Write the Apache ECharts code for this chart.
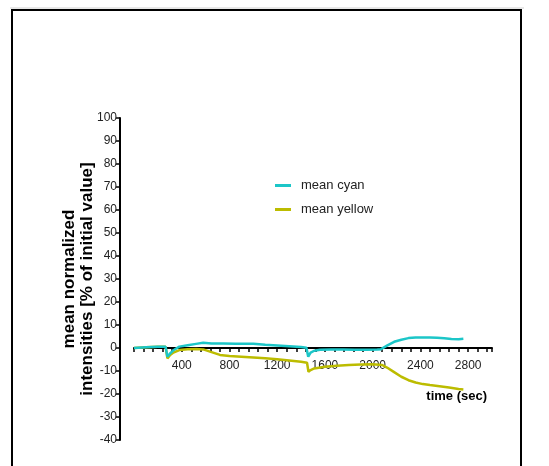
<!DOCTYPE html>
<html><head><meta charset="utf-8">
<script src="https://cdn.jsdelivr.net/npm/echarts@6/dist/echarts.min.js"></script>
<style>html,body{margin:0;padding:0;background:#fff}#c{width:549px;height:466px}</style>
</head><body><div id="c"></div>
<script>
const seriesNames = ['mean cyan', 'mean yellow'];
const cyanTime =   [0, 100, 200, 265, 280, 300, 330, 380, 450, 520, 580, 650, 750, 850, 1000, 1100, 1200, 1300, 1400, 1445, 1460, 1480, 1510, 1560, 1650, 1750, 1850, 1950, 2040, 2070, 2120, 2180, 2240, 2300, 2360, 2420, 2480, 2540, 2600, 2660, 2720, 2760];
const cyanValues = [0, 0.3, 0.5, 0.5, -3.8, -2.5, -1.0, 0.6, 1.2, 1.8, 2.3, 2.0, 2.0, 1.9, 1.8, 1.4, 1.1, 0.8, 0.4, 0.1, -3.8, -2.0, -1.2, -0.8, -0.6, -0.7, -0.8, -0.8, -0.7, -0.5, 1.0, 2.7, 3.6, 4.3, 4.6, 4.6, 4.6, 4.5, 4.2, 3.9, 3.8, 4.0];
const yellowTime =   [0, 100, 200, 265, 280, 300, 330, 380, 450, 520, 580, 650, 720, 800, 900, 1000, 1100, 1200, 1300, 1400, 1450, 1462, 1480, 1510, 1600, 1700, 1800, 1900, 2000, 2080, 2120, 2180, 2240, 2300, 2360, 2420, 2480, 2560, 2640, 2720, 2760];
const yellowValues = [0, 0.3, 0.5, 0.5, -4.5, -3.2, -2.0, -0.9, -0.5, -0.4, -0.6, -1.8, -3.0, -3.5, -3.8, -4.1, -4.5, -4.9, -5.4, -6.0, -6.4, -10.3, -9.6, -8.9, -8.2, -7.7, -7.4, -7.2, -7.1, -7.4, -8.5, -10.5, -12.5, -14.0, -15.0, -15.7, -16.1, -16.6, -17.2, -17.8, -18.0];
const yTitleLines = ['mean normalized', 'intensities [% of initial value]'];
const xTitle = 'time (sec)';

const pair = (t, v) => t.map((x, i) => [x, v[i]]);
const font = 'Liberation Sans, Arial, sans-serif';
const chart = echarts.init(document.getElementById('c'), null, {renderer: 'canvas'});
chart.setOption({
  backgroundColor: '#fff',
  animation: false,
  grid: {left: 134, right: 57, top: 118, bottom: 26, containLabel: false},
  legend: {
    orient: 'vertical', left: 270, top: 174, itemGap: 11,
    icon: 'rect', itemWidth: 16, itemHeight: 3,
    textStyle: {fontFamily: font, fontSize: 13, color: '#222', padding: [0, 0, 0, 5]},
    data: seriesNames
  },
  xAxis: {
    type: 'value', min: 0, max: 3000, interval: 80, offset: -92,
    axisLine: {onZero: false, lineStyle: {color: '#000', width: 2}},
    axisTick: {show: true, length: 4, lineStyle: {color: '#000', width: 1.5}},
    splitLine: {show: false},
    axisLabel: {
      fontFamily: font, fontSize: 12, color: '#222', margin: 12,
      formatter: v => (v > 0 && v % 400 === 0 && v < 3000) ? String(v) : ''
    }
  },
  yAxis: {
    type: 'value', min: -40, max: 100, interval: 10, offset: 14,
    name: yTitleLines.join('\n'), nameLocation: 'middle', nameGap: 24, nameRotate: 90,
    nameMoveOverlap: false,
    nameTextStyle: {fontFamily: font, fontSize: 17, fontWeight: 'bold', color: '#000', lineHeight: 18},
    axisLine: {show: true, onZero: false, lineStyle: {color: '#000', width: 2}},
    axisTick: {show: true, length: 4, lineStyle: {color: '#000', width: 1.5}},
    splitLine: {show: false},
    axisLabel: {fontFamily: font, fontSize: 12, color: '#222', margin: 3}
  },
  graphic: [
    {type: 'line', shape: {x1: 10, y1: 8, x2: 524, y2: 8}, style: {stroke: '#d0d0d0', lineWidth: 1}, silent: true},
    {type: 'rect', shape: {x: 12, y: 10, width: 509, height: 470}, style: {fill: 'none', stroke: '#000', lineWidth: 2}, silent: true},
    {type: 'text', right: 62, top: 390, style: {text: xTitle, font: 'bold 13px ' + font, fill: '#000'}}
  ],
  series: [
    {name: seriesNames[0], type: 'line', data: pair(cyanTime, cyanValues), showSymbol: false, smooth: false,
     lineStyle: {color: '#1cc6c8', width: 2.5}, itemStyle: {color: '#1cc6c8'}, z: 3},
    {name: seriesNames[1], type: 'line', data: pair(yellowTime, yellowValues), showSymbol: false, smooth: false,
     lineStyle: {color: '#bcbc00', width: 2.5}, itemStyle: {color: '#bcbc00'}, z: 2}
  ]
});
</script></body></html>
